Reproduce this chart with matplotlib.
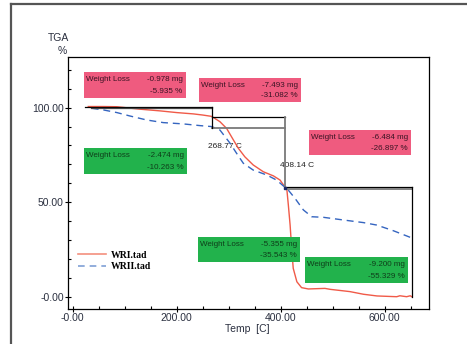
import matplotlib.pyplot as plt
from matplotlib.lines import Line2D
from matplotlib.patches import Rectangle

plt.rcParams['font.family'] = ['Liberation Sans', 'DejaVu Sans']

## TGA curves
temp_wri = [30, 60, 85, 129, 168, 200, 232, 250, 267, 283, 296, 309, 318.5, 331, 347,
            366.5, 386, 398.7, 405, 411.5, 414.6, 418, 421, 424, 431, 440, 453, 485,
            495, 533, 559, 585, 623, 629, 642, 649, 652]
tga_wri = [100.6, 100.6, 100.5, 99.2, 98.3, 97.4, 96.7, 96.1, 95.4, 92.6, 89.0, 82.9, 78.5,
           74.0, 69.7, 66.1, 63.9, 61.7, 59.2, 57.4, 48.5, 37.9, 25.6, 15.0, 7.9, 4.8, 4.1,
           4.4, 3.9, 2.7, 1.3, 0.4, 0.0, 0.5, 0.0, 0.5, 0.0]

temp_wrii = [36.5, 59, 85, 110, 142, 174, 213, 245, 267, 283, 302.5, 315, 328, 347, 373,
             392, 408, 411.5, 427.5, 443.5, 459.6, 482, 520, 559, 584.6, 616.5, 649]
tga_wrii = [99.7, 98.8, 97.4, 95.6, 93.5, 92.1, 91.4, 90.5, 90.0, 88.2, 81.2, 75.9, 70.6,
            67.0, 64.4, 61.7, 57.9, 57.4, 52.0, 45.9, 42.3, 42.0, 40.6, 39.2, 37.9, 34.9, 31.4]

## step analysis
step_start_wri = 24
step_start_wrii = 36
step_temps = [268.77, 408.14]
step_end = 652
levels_wri = [100.6, 94.9, 58.2, 0.0]
levels_wrii = [99.8, 89.4, 56.8]

step_labels = ["268.77 C", "408.14 C"]
pink_mg = ["-0.978 mg", "-7.493 mg", "-6.484 mg"]
pink_pct = ["-5.935 %", "-31.082 %", "-26.897 %"]
green_mg = ["-2.474 mg", "-5.355 mg", "-9.200 mg"]
green_pct = ["-10.263 %", "-35.543 %", "-55.329 %"]

xticks = [0, 200, 400, 600]
xtick_labels = ["-0.00", "200.00", "400.00", "600.00"]
yticks = [0, 50, 100]
ytick_labels = ["-0.00", "50.00", "100.00"]

W, H = 467, 344
fig = plt.figure(figsize=(W / 100, H / 100), dpi=100)


def fx(x):
    return x / W


def fy(y):
    return 1 - y / H


ax = fig.add_axes([fx(68), fy(309), fx(429) - fx(68), fy(57) - fy(309)])
ax.set_xlim(-9, 685)
ax.set_ylim(-6.5, 126.8)

ax.plot(temp_wri, tga_wri, color="#f05a48", lw=1.0, zorder=3)
ax.plot(temp_wrii, tga_wrii, color="#3565c0", lw=1.0, ls=(0, (5, 3.5)), zorder=3)

## step lines
t1, t2 = step_temps
ax.plot([step_start_wri, t1], [levels_wri[0]] * 2, color="black", lw=0.9, zorder=4)
ax.plot([step_start_wrii, t1], [levels_wrii[0]] * 2, color="#444444", lw=0.9, zorder=4)
ax.plot([t1, t2], [levels_wri[1]] * 2, color="black", lw=0.9, zorder=4)
ax.plot([t1, t2], [levels_wrii[1]] * 2, color="#7a7a7a", lw=1.3, zorder=4)
ax.plot([t2, step_end], [levels_wri[2]] * 2, color="black", lw=0.9, zorder=4)
ax.plot([t2, step_end], [levels_wrii[2]] * 2, color="#7a7a7a", lw=1.3, zorder=4)
ax.plot([t1, t1], [levels_wri[0], levels_wrii[1]], color="black", lw=0.9, zorder=4)
ax.plot([t2, t2], [levels_wri[1], levels_wrii[2]], color="#7a7a7a", lw=1.3, zorder=4)
ax.plot([step_end, step_end], [levels_wri[2], levels_wri[3]], color="black", lw=0.9, zorder=4)
ax.plot([t2], [levels_wrii[2] + 0.5], marker="s", ms=2, color="#1a2a6a", zorder=5)

ax.text(t1 - 9, 79.5, step_labels[0], fontsize=6, color="#222222", va="center", zorder=2)
ax.text(t2 - 10, 69.5, step_labels[1], fontsize=6, color="#222222", va="center", zorder=2)

## axes styling
for s in ax.spines.values():
    s.set_linewidth(0.9)
ax.set_xticks(xticks, xtick_labels)
ax.set_yticks(yticks, ytick_labels)
ax.set_xticks(range(0, 651, 50), minor=True)
ax.set_yticks(range(0, 121, 10), minor=True)
ax.tick_params(which="major", direction="inout", length=4, width=0.8,
               labelsize=7.5, labelcolor="#2b3040", pad=1)
ax.tick_params(which="minor", direction="in", length=2.5, width=0.8)
ax.set_xlabel("Temp  [C]", fontsize=7.5, color="#2b3040")
ax.xaxis.set_label_coords((247 - 68) / 361, (309 - 324) / 252)

fig.text(fx(58), fy(38), "TGA", fontsize=7.5, color="#2b3040", ha="center", va="center")
fig.text(fx(62.5), fy(50.5), "%", fontsize=7.5, color="#2b3040", ha="center", va="center")

## legend
handles = [Line2D([], [], color="#f4907e", lw=1.2),
           Line2D([], [], color="#7f9fd6", lw=1.2, ls=(0, (4, 3)))]
ax.legend(handles, ["WRI.tad", "WRII.tad"], loc="center left",
          bbox_to_anchor=(fx(78), fy(261)), bbox_transform=fig.transFigure,
          frameon=False, borderpad=0, borderaxespad=0, handlelength=2.9,
          handletextpad=0.5, labelspacing=0.3,
          prop={"family": "Liberation Serif", "weight": "bold", "size": 7})

## weight loss boxes
pink = "#ef5b7f"
green = "#22b24c"
boxes = [
    (84.3, 185.7, 71.7, 97.7, pink, "#3a1424", pink_mg[0], pink_pct[0]),
    (199, 300.7, 77.7, 102.3, pink, "#3a1424", pink_mg[1], pink_pct[1]),
    (309, 411, 130, 155, pink, "#3a1424", pink_mg[2], pink_pct[2]),
    (84.3, 186.7, 147.7, 174, green, "#0f3d1a", green_mg[0], green_pct[0]),
    (197.7, 300, 237.3, 261.7, green, "#0f3d1a", green_mg[1], green_pct[1]),
    (305, 407.7, 257.3, 283.3, green, "#0f3d1a", green_mg[2], green_pct[2]),
]
for x0, x1, y0, y1, fc, tc, mg, pct in boxes:
    fig.patches.append(Rectangle((fx(x0), fy(y1)), fx(x1) - fx(x0), fy(y0) - fy(y1),
                                 transform=fig.transFigure, facecolor=fc,
                                 edgecolor="none", zorder=6))
    fig.text(fx(x0 + 2), fy(y0 + 7.5), "Weight Loss", fontsize=5.8, color=tc,
             va="center", ha="left", zorder=7)
    fig.text(fx(x1 - 3), fy(y0 + 7.5), mg, fontsize=5.8, color=tc,
             va="center", ha="right", zorder=7)
    fig.text(fx(x1 - 3), fy(y1 - 6.5), pct, fontsize=5.8, color=tc,
             va="center", ha="right", zorder=7)

## outer frame
fig.add_artist(Line2D([fx(11), fx(11)], [fy(344), fy(4)], color="#555555", lw=1.6))
fig.add_artist(Line2D([fx(11), fx(467)], [fy(4), fy(4)], color="#555555", lw=1.6))

fig.savefig("out.png", dpi=100)
